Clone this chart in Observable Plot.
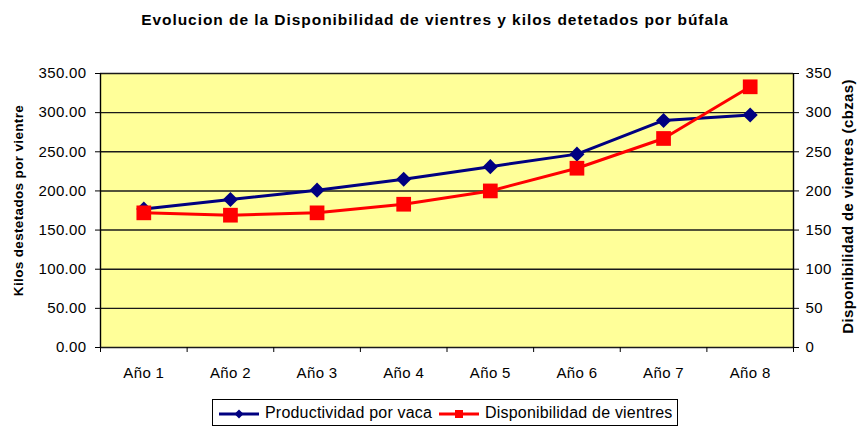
<!DOCTYPE html>
<html>
<head>
<meta charset="utf-8">
<script src="https://cdn.jsdelivr.net/npm/d3@7"></script>
<script src="https://cdn.jsdelivr.net/npm/@observablehq/plot@0.6"></script>
<style>
  html, body { margin: 0; padding: 0; background: #fff; }
  body { width: 859px; height: 426px; overflow: hidden; font-family: Arial, "Liberation Sans", sans-serif; color: #000; }
  #title { height: 40px; box-sizing: border-box; padding-top: 12px; padding-left: 11px; text-align: center;
           font-weight: bold; font-size: 15.5px; line-height: 15px; letter-spacing: 0.95px; white-space: nowrap; }
  #chart svg { display: block; }
  #legend { position: relative; margin-left: 212px; margin-top: 3px; width: 466px; height: 27px; box-sizing: border-box;
            border: 1px solid #000; background: #fff; font-size: 16px; letter-spacing: 0.2px; }
  #legend .sw { position: absolute; top: 7px; width: 40px; height: 14px; }
  #legend .lab { position: absolute; top: 4px; line-height: 18px; white-space: nowrap; }
</style>
</head>
<body>
<div id="title">Evolucion de la Disponibilidad de vientres y kilos detetados por búfala</div>
<div id="chart"></div>
<div id="legend">
  <svg class="sw" style="left:6px" viewBox="0 0 40 14"><line x1="0" y1="7" x2="40" y2="7" stroke="#000080" stroke-width="3"/><path d="M20 2.5 L24.5 7 L20 11.5 L15.5 7 Z" fill="#000080"/></svg>
  <span class="lab" style="left:52px">Productividad por vaca</span>
  <svg class="sw" style="left:226px" viewBox="0 0 40 14"><line x1="0" y1="7" x2="40" y2="7" stroke="#FF0000" stroke-width="3"/><rect x="16" y="3" width="8" height="8" fill="#FF0000"/></svg>
  <span class="lab" style="left:272px">Disponibilidad de vientres</span>
</div>
<script>
// ---- data ----
const categories = ["Año 1", "Año 2", "Año 3", "Año 4", "Año 5", "Año 6", "Año 7", "Año 8"];
const productividad = [177, 189, 201, 215, 231, 247, 290, 297];   // Productividad por vaca (kilos)
const disponibilidad = [172, 169, 172, 183, 200, 229, 267, 333];  // Disponibilidad de vientres (cbzas)
const yTicks = [0, 50, 100, 150, 200, 250, 300, 350];
const yLabelLeft = "Kilos destetados por vientre";
const yLabelRight = "Disponibilidad de vientres (cbzas)";

const rows = categories.map((c, i) => ({pos: i + 1, cat: c, p: productividad[i], d: disponibilidad[i]}));
const centers = rows.map(r => r.pos);
const bounds = [0.5, ...centers.map(v => v + 0.5)];

const chart = Plot.plot({
  width: 859,
  height: 356,
  marginTop: 33,
  marginBottom: 49,
  marginLeft: 100,
  marginRight: 66,
  style: {fontFamily: "Arial, 'Liberation Sans', sans-serif", fontSize: "15px", letterSpacing: "0.35px", background: "white", color: "#000", overflow: "visible"},
  x: {type: "linear", domain: [0.5, categories.length + 0.5]},
  y: {domain: [0, 350]},
  marks: [
    Plot.frame({fill: "#FFFF99", stroke: "none"}),
    Plot.ruleY(yTicks, {stroke: "#1a1a1a", strokeWidth: 1.4}),
    Plot.ruleX([bounds[0], bounds[bounds.length - 1]], {stroke: "#000", strokeWidth: 1.4}),
    Plot.axisY({anchor: "left", ticks: yTicks, tickFormat: d => d.toFixed(2), tickSize: 5, tickPadding: 9, label: null}),
    Plot.axisY({anchor: "right", ticks: yTicks, tickFormat: d => String(d), tickSize: 5, tickPadding: 7, label: null}),
    Plot.axisX({ticks: centers, tickFormat: v => categories[v - 1], tickSize: 0, tickPadding: 20, label: null}),
    Plot.axisX({ticks: bounds, tickFormat: () => "", tickSize: 5, label: null}),
    Plot.line(rows, {x: "pos", y: "p", stroke: "#000080", strokeWidth: 3}),
    Plot.dot(rows, {x: "pos", y: "p", symbol: "diamond2", r: 6.8, fill: "#000080", stroke: "none"}),
    Plot.line(rows, {x: "pos", y: "d", stroke: "#FF0000", strokeWidth: 3}),
    Plot.dot(rows, {x: "pos", y: "d", symbol: "square", r: 8.3, fill: "#FF0000", stroke: "none"}),
    Plot.text([yLabelLeft], {text: d => d, frameAnchor: "left", textAnchor: "middle", lineAnchor: "middle", dx: -82, dy: -10, rotate: -90, fontWeight: "bold", fontSize: 13.5}),
    Plot.text([yLabelRight], {text: d => d, frameAnchor: "right", textAnchor: "middle", lineAnchor: "middle", dx: 55, dy: -4, rotate: -90, fontWeight: "bold", fontSize: 15})
  ]
});
document.getElementById("chart").appendChild(chart);
</script>
</body>
</html>
